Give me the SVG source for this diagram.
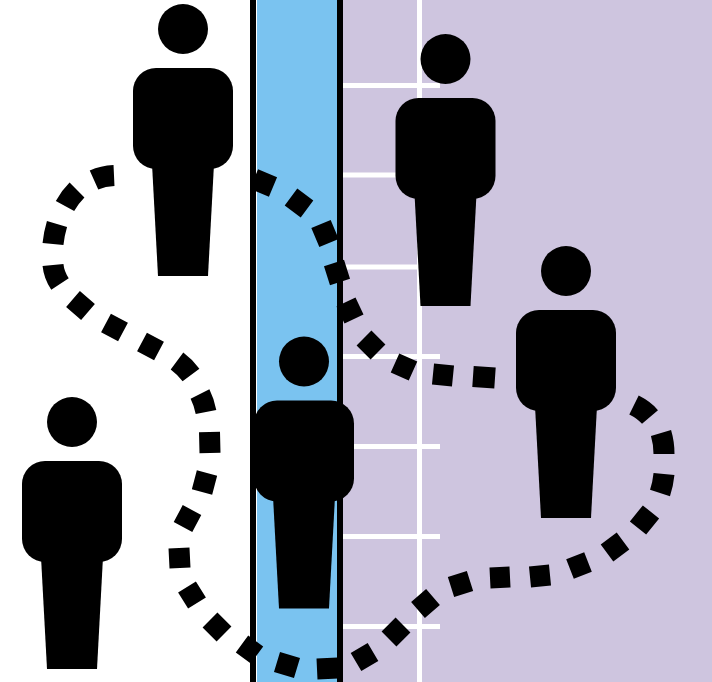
<svg xmlns="http://www.w3.org/2000/svg" width="712" height="682" viewBox="0 0 712 682">
<defs>
<g id="person">
<circle cx="50" cy="25" r="25"/>
<rect x="0" y="64" width="100" height="101" rx="23" ry="23"/>
<path d="M19 160H81L75 272H25Z"/>
</g>
</defs>
<style>
.rung{stroke:#fff;stroke-width:5;fill:none}
.dash{stroke:#000;stroke-width:21;fill:none}
</style>
<rect id="ground" width="712" height="682" fill="#fff"/>
<rect id="water" x="257" y="0" width="80" height="682" fill="#7ac3f0"/>
<rect id="land" x="343" y="0" width="369" height="682" fill="#cec5df"/>
<g id="ladder">
<path class="rung" d="M419.500 0V682M343 85.500H440M343 175H440M343 267H440M343 356.500H440M343 446.500H440M343 536.500H440M343 626.500H440"/>
</g>
<g id="connectors">
<path class="dash" d="M114 175.500Q103 176 94 180M77 190Q70 197 65 206M57 224Q54 234 53 244M53 265Q54 275 60 284M73 299L88 312M106 323L123 332M142 342L159 351M177 361Q185 367 191 375M200 394Q204 402 206 412M209.500 432L210 453M207 473L202 492M192 510L183 527M179 548L180 568M187 587L197 603M210 620L224 634M242 644L257 655M277 662L297 668M317 669L338 668M356 662L373 652M389 639L403 625M418 610L433 597M451 587L470 581M490 578L510 577M530 577L550 575M570 569L588 562M607 553L623 541M638 528L651 512M664 474Q663 484 660 493M661 433Q664 443 664 454M650 417Q644 410 634 405"/>
<path class="dash" d="M254 179L273 187M291 197L307 209M321 224L329 243M334 263L340 282M346 302L354 319M364 338L378 352M395 363L413 371M433 374L453 376M473 376.500L495 378"/>
</g>
<g id="walls">
<rect x="250" y="0" width="6" height="682" fill="#000"/>
<rect x="337" y="0" width="6" height="682" fill="#000"/>
</g>
<g id="person-1"><use href="#person" x="133" y="4"/></g>
<g id="person-2"><use href="#person" x="395.500" y="34"/></g>
<g id="person-3"><use href="#person" x="516" y="246"/></g>
<g id="person-4"><use href="#person" x="254" y="336.500"/></g>
<g id="person-5"><use href="#person" x="22" y="397"/></g>
</svg>
